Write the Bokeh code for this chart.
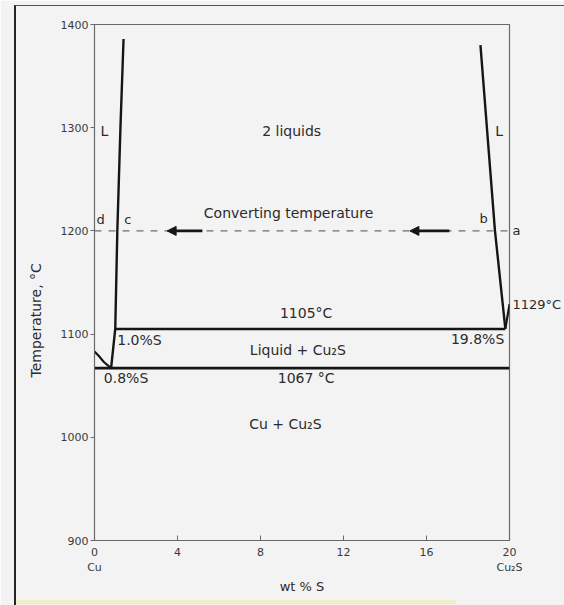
from bokeh.embed import file_html
from bokeh.models import (Arrow, FixedTicker, InlineStyleSheet, Label,
                          LinearAxis, NormalHead)
from bokeh.plotting import figure
from bokeh.resources import INLINE

# Cu - Cu2S phase diagram (temperature vs wt % S)

# Cu-rich liquidus falling to the 1067 C eutectic
cu_liq_x = [0.0, 0.2, 0.45, 0.8]
cu_liq_t = [1083, 1079, 1073, 1067]

# Cu-rich boundary of the two-liquid region
left_gap_x = [0.8, 1.0, 1.1, 1.25, 1.4]
left_gap_t = [1067, 1105, 1200, 1300, 1386]

# Cu2S-rich boundary of the two-liquid region
right_gap_x = [18.6, 19.3, 19.8]
right_gap_t = [1380, 1200, 1105]

# Cu2S liquidus up to its melting point
cu2s_liq_x = [19.8, 20.0]
cu2s_liq_t = [1105, 1129]

# invariant lines
monotectic_t = 1105
monotectic_x = [1.0, 19.8]
eutectic_t = 1067
eutectic_x = [0.0, 20.0]

# converting temperature and its arrows
convert_t = 1200
convert_x = [0.0, 20.0]
arrow_tail_x = [5.2, 17.1]
arrow_head_x = [3.5, 15.2]

x_ticks = [0, 4, 8, 12, 16, 20]
x_tick_names = {0: "0\nCu", 20: "20\nCu₂S"}
t_ticks = [900, 1000, 1100, 1200, 1300, 1400]
right_marks = {1129: "1129°C", 1200: "a"}

BG = "#f3f3f4"
INK = "#151515"
TXT = "#2b2b2b"
FONT = "DejaVu Sans"

# thin page rule along the top and a heavier one down the left side
page_frame = InlineStyleSheet(css="""
:host { position: relative; }
:host::after {
  content: ""; position: absolute; left: 14px; top: 5px; right: -4px; bottom: -4px;
  border-left: 2px solid #262626; border-top: 1.5px solid #555555;
  pointer-events: none;
}
:host::before {
  content: ""; position: absolute; left: 16px; width: 440px; bottom: 1px; height: 4px;
  background: #f4ecc4; pointer-events: none; z-index: 2;
}
""")

p = figure(width=564, height=605, x_range=(0, 20), y_range=(900, 1400),
           output_backend="svg", toolbar_location=None,
           min_border_left=94, min_border_right=55,
           min_border_top=24, min_border_bottom=65,
           stylesheets=[page_frame])
p.background_fill_color = BG
p.border_fill_color = BG
p.outline_line_color = "#6a6a6a"
p.outline_line_width = 1.2
p.grid.visible = False

# axes
p.xaxis.ticker = FixedTicker(ticks=x_ticks)
p.xaxis.major_label_overrides = x_tick_names
p.yaxis.ticker = FixedTicker(ticks=t_ticks)
for ax in (p.xaxis, p.yaxis):
    ax.axis_line_color = "#6a6a6a"
    ax.major_tick_line_color = "#6a6a6a"
    ax.minor_tick_line_color = None
    ax.major_label_text_font = FONT
    ax.major_label_text_font_size = "11px"
    ax.major_label_text_color = "#3a3a3a"
    ax.axis_label_text_font = FONT
    ax.axis_label_text_font_style = "normal"
    ax.axis_label_text_color = TXT
p.xaxis.major_tick_in = 5
p.xaxis.major_tick_out = 0
p.xaxis.major_label_standoff = 5
p.xaxis.axis_label = "wt % S"
p.xaxis.axis_label_text_font_size = "13px"
p.xaxis.axis_label_standoff = 2
p.yaxis.major_tick_in = 0
p.yaxis.major_tick_out = 4
p.yaxis.major_label_standoff = 2
p.yaxis.axis_label = "Temperature,  °C" + "\u00a0" * 16
p.yaxis.axis_label_text_font_size = "14px"
p.yaxis.axis_label_standoff = 14

# labels just outside the right edge
right_axis = LinearAxis(ticker=FixedTicker(ticks=list(right_marks)),
                        major_label_overrides=right_marks,
                        axis_line_color=None, major_tick_line_color=None,
                        minor_tick_line_color=None, major_label_standoff=3,
                        major_tick_in=0, major_tick_out=0,
                        major_label_text_font=FONT,
                        major_label_text_font_size="13px",
                        major_label_text_color=TXT)
p.add_layout(right_axis, "right")

# curves
p.line(cu_liq_x, cu_liq_t, line_color=INK, line_width=2.2)
p.line(left_gap_x, left_gap_t, line_color=INK, line_width=2.4)
p.line(right_gap_x, right_gap_t, line_color=INK, line_width=2.4)
p.line(cu2s_liq_x, cu2s_liq_t, line_color=INK, line_width=2.2)
p.line(monotectic_x, [monotectic_t] * 2, line_color=INK, line_width=2.6)
p.line(eutectic_x, [eutectic_t] * 2, line_color=INK, line_width=2.6)
p.line(convert_x, [convert_t] * 2, line_color="#707070", line_width=1.2,
       line_dash="7 7")

for xs, xe in zip(arrow_tail_x, arrow_head_x):
    p.add_layout(Arrow(end=NormalHead(size=9, fill_color=INK, line_color=INK),
                       x_start=xs, y_start=convert_t, x_end=xe, y_end=convert_t,
                       line_color=INK, line_width=2.6))


def lab(x, y, text, size="14px", align="center", dx=0):
    p.add_layout(Label(x=x, y=y, text=text, x_offset=dx,
                       text_font=FONT, text_font_size=size, text_color=TXT,
                       text_align=align, text_baseline="middle"))


lab(9.5, 1297, "2 liquids")
lab(0.48, 1297, "L")
lab(19.5, 1297, "L")
lab(9.35, 1217, "Converting temperature")
lab(0.3, 1211, "d", size="13px")
lab(1.6, 1211, "c", size="13px")
lab(18.75, 1212, "b", size="13px")
lab(10.2, 1120, "1105°C")
lab(1.0, 1094, "1.0%S", dx=2, align="left")
lab(19.75, 1095, "19.8%S", align="right")
lab(9.8, 1085, "Liquid + Cu₂S")
lab(0.45, 1057, "0.8%S", align="left")
lab(10.2, 1057, "1067 °C")
lab(9.2, 1013, "Cu + Cu₂S")

open("out.html", "w").write(file_html(p, INLINE))
